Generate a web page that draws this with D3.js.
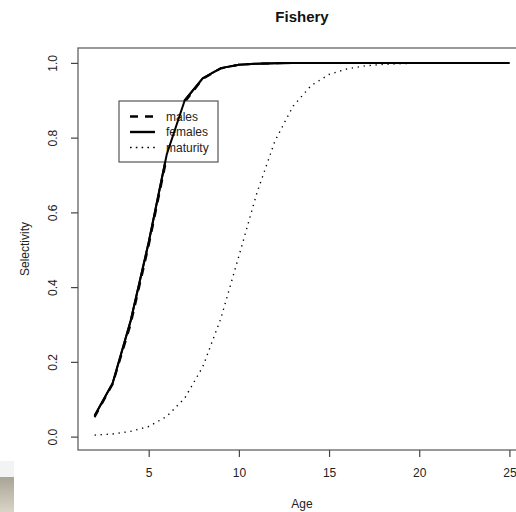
<!DOCTYPE html>
<html>
<head>
<meta charset="utf-8">
<script src="https://cdn.jsdelivr.net/npm/d3@7"></script>
<style>
  body { margin: 0; background: #fff; }
  svg { display: block; font-family: "Liberation Sans", Arial, sans-serif; }
</style>
</head>
<body>
<div id="chart"></div>
<script>
// ages and curves
const ages = d3.range(2, 26);
const females = [0.056, 0.143, 0.31, 0.52, 0.755, 0.90, 0.959, 0.986, 0.995, 0.998, 0.999,
    1, 1, 1, 1, 1, 1, 1, 1, 1, 1, 1, 1, 1];
const males = [0.052, 0.140, 0.30, 0.51, 0.745, 0.895, 0.957, 0.985, 0.995, 0.998, 0.999,
    1, 1, 1, 1, 1, 1, 1, 1, 1, 1, 1, 1, 1];
const maturity = [0.004, 0.007, 0.014, 0.027, 0.054, 0.103, 0.187, 0.316, 0.483, 0.652, 0.791,
    0.884, 0.939, 0.969, 0.984, 0.992, 0.996, 0.998, 0.999, 1, 1, 1, 1, 1];
const xTicks = [5, 10, 15, 20, 25];
const yTicks = [0, 0.2, 0.4, 0.6, 0.8, 1.0];
const legendLabels = ["males", "females", "maturity"];

const width = 516, height = 512;
const box = { left: 78, right: 526, top: 48, bottom: 450 };

const svg = d3.select("#chart").append("svg")
    .attr("width", width)
    .attr("height", height);

// R-style 4% extension of the data range
const xr = [2, 25], yr = [0.004, 1];
const xpad = (xr[1] - xr[0]) * 0.04, ypad = (yr[1] - yr[0]) * 0.04;
const x = d3.scaleLinear().domain([xr[0] - xpad, xr[1] + xpad]).range([box.left, box.right]);
const y = d3.scaleLinear().domain([yr[0] - ypad, yr[1] + ypad]).range([box.bottom, box.top]);

svg.append("defs").append("clipPath").attr("id", "clip")
    .append("rect")
    .attr("x", box.left).attr("y", box.top)
    .attr("width", box.right - box.left).attr("height", box.bottom - box.top);

// little grey scrap in the bottom-left corner of the screenshot
const grad = svg.select("defs").append("linearGradient")
    .attr("id", "scrap").attr("x1", 0).attr("y1", 0).attr("x2", 0).attr("y2", 1);
grad.append("stop").attr("offset", "0%").attr("stop-color", "#a9a596");
grad.append("stop").attr("offset", "100%").attr("stop-color", "#d9d4c6");
svg.append("rect").attr("x", 0).attr("y", 461).attr("width", 14).attr("height", 16).attr("fill", "#f3f3f3");
svg.append("rect").attr("x", 0).attr("y", 477).attr("width", 14).attr("height", 35).attr("fill", "url(#scrap)");

// plot box
svg.append("rect")
    .attr("x", box.left).attr("y", box.top)
    .attr("width", box.right - box.left).attr("height", box.bottom - box.top)
    .attr("fill", "none").attr("stroke", "#555").attr("stroke-width", 1.2);

// axes
const gx = svg.append("g").attr("transform", `translate(0,${box.bottom})`)
    .call(d3.axisBottom(x).tickValues(xTicks).tickSize(7).tickPadding(11).tickFormat(d3.format("d")));
gx.select(".domain").remove();
gx.selectAll("line").attr("stroke", "#444").attr("stroke-width", 1.2);
gx.selectAll("text").attr("font-size", 12).attr("fill", "#222")
    .attr("font-family", "Liberation Sans, Arial, sans-serif");

const gy = svg.append("g").attr("transform", `translate(${box.left},0)`)
    .call(d3.axisLeft(y).tickValues(yTicks).tickSize(7).tickFormat(d3.format(".1f")));
gy.select(".domain").remove();
gy.selectAll("line").attr("stroke", "#444").attr("stroke-width", 1.2);
gy.selectAll("text")
    .attr("font-size", 12).attr("fill", "#222")
    .attr("font-family", "Liberation Sans, Arial, sans-serif")
    .attr("x", null).attr("dy", null)
    .attr("text-anchor", "middle")
    .attr("transform", "translate(-21,0) rotate(-90)");

// titles
svg.append("text").attr("x", (box.left + box.right) / 2).attr("y", 22)
    .attr("text-anchor", "middle").attr("font-size", 15).attr("font-weight", "bold")
    .attr("fill", "#111").text("Fishery");
svg.append("text").attr("x", (box.left + box.right) / 2).attr("y", 508)
    .attr("text-anchor", "middle").attr("font-size", 12).attr("fill", "#222").text("Age");
svg.append("text").attr("transform", `translate(29,${(box.top + box.bottom) / 2}) rotate(-90)`)
    .attr("text-anchor", "middle").attr("font-size", 12).attr("fill", "#222").text("Selectivity");

// curves
const line = d3.line().x((d, i) => x(ages[i])).y(d => y(d));
const plot = svg.append("g").attr("clip-path", "url(#clip)");

const series = [
    { name: "males", values: males, dash: "8,7", width: 2 },
    { name: "females", values: females, dash: null, width: 2 },
    { name: "maturity", values: maturity, dash: "1.3,4.7", width: 1.4 },
];

plot.selectAll("path.curve")
    .data(series)
    .join("path")
    .attr("class", "curve")
    .attr("d", d => line(d.values))
    .attr("fill", "none")
    .attr("stroke", "#000")
    .attr("stroke-width", d => d.width)
    .attr("stroke-dasharray", d => d.dash);

// legend
const lg = svg.append("g").attr("transform", "translate(119,101)");
lg.append("rect").attr("width", 99).attr("height", 61)
    .attr("fill", "#fff").attr("stroke", "#555").attr("stroke-width", 1.2);
const rows = lg.selectAll("g.row")
    .data(series)
    .join("g")
    .attr("class", "row")
    .attr("transform", (d, i) => `translate(0,${15.5 + i * 15.5})`);
rows.append("line")
    .attr("x1", 11).attr("x2", 36)
    .attr("stroke", "#000")
    .attr("stroke-width", d => d.name == "maturity" ? 1.6 : 2.4)
    .attr("stroke-dasharray", d => d.name == "maturity" ? "1.6,4.2" : d.dash);
rows.append("text")
    .attr("x", 47).attr("dy", "0.35em")
    .attr("font-size", 12).attr("fill", "#222")
    .text((d, i) => legendLabels[i]);

// the female curve is drawn over the legend box, as in the source
svg.append("path")
    .attr("clip-path", "url(#clip)")
    .attr("d", line(females))
    .attr("fill", "none").attr("stroke", "#000").attr("stroke-width", 2);
</script>
</body>
</html>
